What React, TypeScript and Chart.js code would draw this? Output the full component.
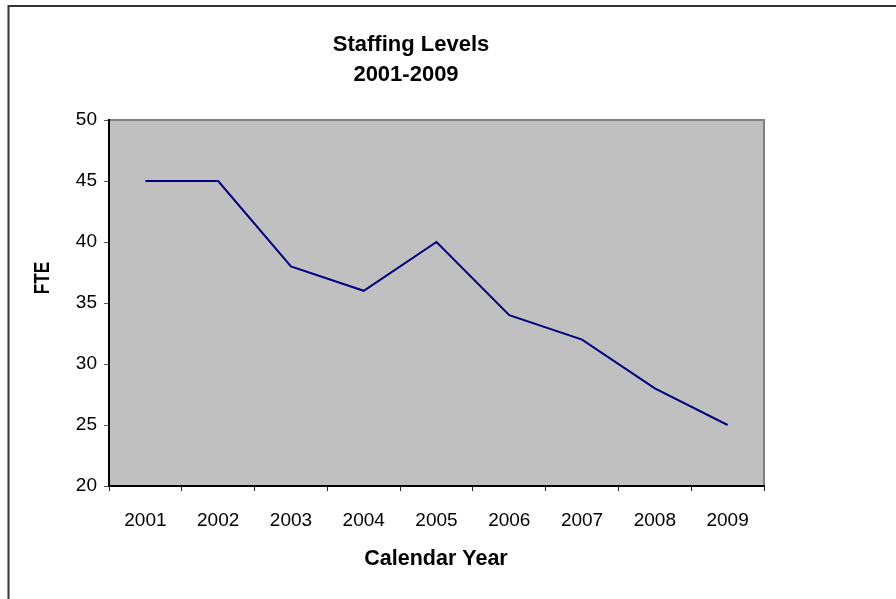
import React, { useEffect, useRef } from "react";
import { Chart, registerables } from "chart.js";

Chart.register(...registerables);

const years = ["2001", "2002", "2003", "2004", "2005", "2006", "2007", "2008", "2009"];
const fte = [45, 45, 38, 36, 40, 34, 32, 28, 25];
const titleLines = ["Staffing Levels", "2001-2009"];
const xTitle = "Calendar Year";
const yTitle = "FTE";

const FONT = "Arial, 'Liberation Sans', sans-serif";

const decor = {
  id: "decor",
  beforeDraw(chart: any) {
    const { ctx, chartArea: a } = chart;
    ctx.save();
    ctx.fillStyle = "#ffffff";
    ctx.fillRect(0, 0, chart.width, chart.height);
    ctx.fillStyle = "#C0C0C0";
    ctx.fillRect(a.left, a.top, a.right - a.left, a.bottom - a.top);
    ctx.strokeStyle = "#808080";
    ctx.lineWidth = 2;
    ctx.beginPath();
    ctx.moveTo(a.left, a.top);
    ctx.lineTo(a.right, a.top);
    ctx.lineTo(a.right, a.bottom);
    ctx.stroke();
    // outer chart border
    ctx.strokeStyle = "#333333";
    ctx.lineWidth = 2;
    ctx.beginPath();
    ctx.moveTo(8.5, chart.height);
    ctx.lineTo(8.5, 6);
    ctx.lineTo(chart.width, 6);
    ctx.stroke();
    ctx.restore();
  },
  afterDraw(chart: any) {
    const { ctx } = chart;
    ctx.save();
    ctx.fillStyle = "#000";
    ctx.textAlign = "center";
    ctx.textBaseline = "middle";
    ctx.font = `bold 22px ${FONT}`;
    ctx.fillText(titleLines[0], 411, 45);
    ctx.fillText(titleLines[1], 406, 75);
    ctx.font = `bold 21.5px ${FONT}`;
    ctx.fillText(xTitle, 436, 559);
    ctx.translate(43, 278);
    ctx.rotate(-Math.PI / 2);
    ctx.scale(0.8, 1);
    ctx.fillText(yTitle, 0, 0);
    ctx.restore();
  },
};

export default function App() {
  const ref = useRef<HTMLCanvasElement>(null);
  useEffect(() => {
    if (!ref.current) return;
    const chart = new Chart(ref.current, {
      type: "line",
      data: {
        labels: years,
        datasets: [
          {
            data: fte,
            borderColor: "#000080",
            borderWidth: 2,
            pointRadius: 0,
            tension: 0,
            fill: false,
          },
        ],
      },
      options: {
        responsive: false,
        animation: false,
        layout: { padding: { top: 120, right: 132, bottom: 0, left: 0 } },
        plugins: { legend: { display: false }, title: { display: false }, tooltip: { enabled: false } },
        scales: {
          x: {
            offset: true,
            afterFit: (s: any) => {
              s.height = 113;
            },
            grid: {
              offset: true,
              drawOnChartArea: false,
              drawTicks: true,
              tickLength: 5,
              tickColor: "#222",
            },
            border: { display: true, color: "#000", width: 2 },
            ticks: { color: "#000", font: { family: FONT, size: 19 }, padding: 18, maxRotation: 0 },
          },
          y: {
            min: 20,
            max: 50,
            afterFit: (s: any) => {
              s.width = 109;
            },
            grid: {
              drawOnChartArea: false,
              drawTicks: true,
              tickLength: 5,
              tickColor: "#555",
            },
            border: { display: true, color: "#000", width: 2 },
            ticks: { stepSize: 5, color: "#000", font: { family: FONT, size: 19 }, padding: 7 },
          },
        },
      },
      plugins: [decor],
    });
    return () => chart.destroy();
  }, []);
  return (
    <canvas
      ref={ref}
      width={896}
      height={599}
      style={{ position: "fixed", left: 0, top: 0, display: "block" }}
    />
  );
}
